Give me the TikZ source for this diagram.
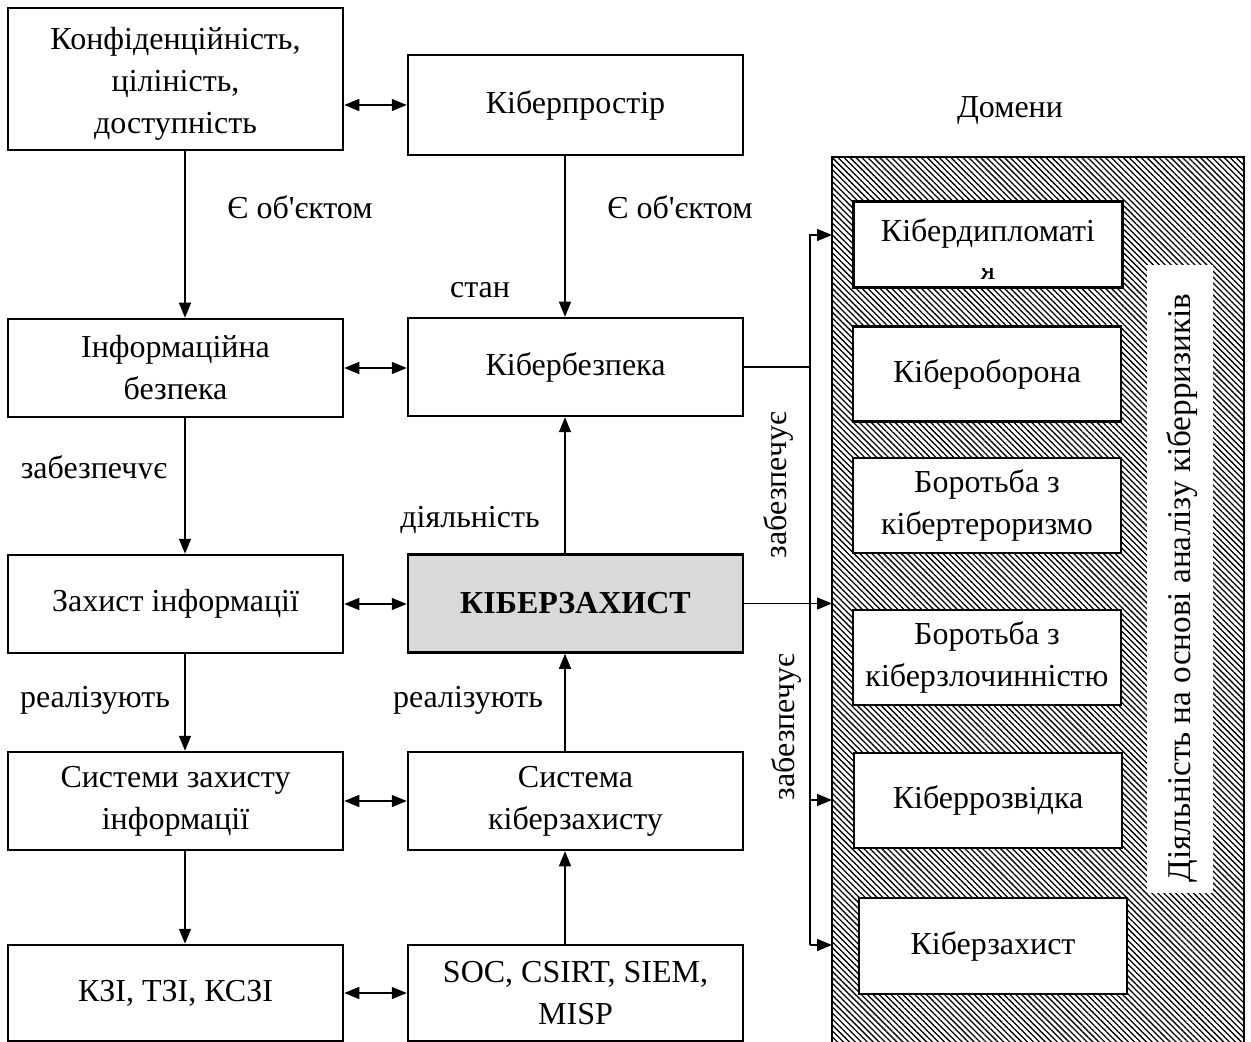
\documentclass[tikz,border=0pt]{standalone}
\usepackage{fontspec}
\setmainfont{Liberation Serif}
\usetikzlibrary{arrows.meta,patterns.meta}
\begin{document}
\begin{tikzpicture}[x=0.5pt,y=-0.5pt,
  txt/.style={font=\fontsize{16}{21}\selectfont},
  box/.style={txt,draw,line width=1.25pt,fill=white,align=center,inner sep=0pt,minimum width=167.5pt,minimum height=49pt},
  dbox/.style={txt,draw,line width=1.25pt,fill=white,align=center,inner sep=0pt,minimum width=134pt,minimum height=47.5pt},
  lbl/.style={txt,inner sep=0pt},
  con/.style={line width=0.7pt},
  arr/.style={con,-{Triangle[length=7.5pt,width=6pt]}},
  darr/.style={con,{Triangle[length=7.5pt,width=6pt]}-{Triangle[length=7.5pt,width=6pt]}},
]
\useasboundingbox (0,0) rectangle (1251,1042);
% hatched panel
\fill[pattern={Lines[angle=-45,distance=2.1pt,line width=0.65pt]}] (832,157) rectangle (1244,1050);
\draw[line width=1.25pt] (832,1050) -- (832,157) -- (1244,157) -- (1244,1050);
\fill[white] (1147,265) rectangle (1213,893);
\node[lbl,font=\fontsize{16.6}{21}\selectfont,rotate=90] (act) at (1182,588) {Діяльність на основі аналізу кіберризиків};
\node[lbl] (dom) at (1010,110) {Домени};

% left column
\node[box,minimum height=71pt] (b1) at (175.5,79) {\rule{0pt}{16pt}Конфіденційність,\\ ціліність,\\ доступність};
\node[box] (ib) at (175.5,368) {Інформаційна\\ безпека};
\node[box] (zi) at (175.5,604) {Захист інформації};
\node[box] (szi) at (175.5,801) {Системи захисту\\ інформації};
\node[box,minimum height=48pt] (kzi) at (175.5,993) {КЗІ, ТЗІ, КСЗІ};
% middle column
\node[box,minimum height=50pt] (cp) at (575.5,105) {Кіберпростір};
\node[box] (cb) at (575.5,367) {Кібербезпека};
\node[box,fill=black!15] (kz) at (575.5,603.5) {\bfseries КІБЕРЗАХИСТ};
\node[box] (sk) at (575.5,801) {Система\\ кіберзахисту};
\node[box,minimum height=48pt] (soc) at (575.5,993) {SOC, CSIRT, SIEM,\\ MISP};

% domain boxes
\node[dbox,minimum width=134.5pt,minimum height=43pt] (d1) at (988,244.5) {};
\node[lbl] (d1t) at (988,233) {Кібердипломаті};
\begin{scope}
  \clip (855,269) rectangle (1120,286);
  \node[lbl,anchor=base] (d1y) at (988,280) {я};
\end{scope}
\node[dbox] (d2) at (987,374) {Кібероборона};
\node[dbox] (d3) at (987,505.5) {Боротьба з\\ кібертероризмо};
\node[dbox] (d4) at (987,657.5) {Боротьба з\\ кіберзлочинністю};
\node[dbox] (d5) at (988,800.5) {Кіберрозвідка};
\node[dbox,minimum height=48pt] (d6) at (993,946) {Кіберзахист};

% horizontal double arrows
\draw[darr] (b1.east |- cp.west) -- (cp.west);
\draw[darr] (ib.east) -- (ib.east -| cb.west);
\draw[darr] (zi.east) -- (zi.east -| kz.west);
\draw[darr] (szi.east) -- (szi.east -| sk.west);
\draw[darr] (kzi.east) -- (kzi.east -| soc.west);

% vertical arrows left
\draw[arr] ([xshift=4.75pt]b1.south) -- ([xshift=4.75pt]ib.north);
\draw[arr] ([xshift=4.75pt]ib.south) -- ([xshift=4.75pt]zi.north);
\draw[arr] ([xshift=4.75pt]zi.south) -- ([xshift=4.75pt]szi.north);
\draw[arr] ([xshift=4.75pt]szi.south) -- ([xshift=4.75pt]kzi.north);
% vertical arrows middle
\draw[arr] ([xshift=-5.25pt]cp.south) -- ([xshift=-5.25pt]cb.north);
\draw[arr] ([xshift=-5.25pt]kz.north) -- ([xshift=-5.25pt]cb.south);
\draw[arr] ([xshift=-5.25pt]sk.north) -- ([xshift=-5.25pt]kz.south);
\draw[arr] ([xshift=-5.25pt]soc.north) -- ([xshift=-5.25pt]sk.south);

% right connectors
\coordinate (bx) at (810,368);
\coordinate (t1) at (832,235);
\coordinate (t2) at (832,605);
\coordinate (t3) at (832,800);
\coordinate (t4) at (832,945);
\draw[arr] (cb.east) -- (cb.east -| bx) |- (t1);
\draw[con] (cb.east -| bx) -- (bx |- t4);
\draw[arr] (bx |- t3) -- (t3);
\draw[arr] (bx |- t4) -- (t4);
\draw[arr] (kz.east) -- (kz.east -| t2);

% labels
\node[lbl] (l1) at (300,207) {Є об\textquotesingle єктом};
\node[lbl] (l2) at (680,207) {Є об\textquotesingle єктом};
\node[lbl] (l3) at (480,290) {стан};
\node[lbl] (l4) at (470,520) {діяльність};
\node[lbl] (l5) at (95,700) {реалізують};
\node[lbl] (l6) at (468,700) {реалізують};
\begin{scope}
  \clip (0,440) rectangle (200,478);
  \node[lbl] (l7) at (94,470) {забезпечує};
\end{scope}
\node[lbl,rotate=90] (l8) at (778,485) {забезпечує};
\node[lbl,rotate=90] (l9) at (786,727) {забезпечує};
\end{tikzpicture}
\end{document}
